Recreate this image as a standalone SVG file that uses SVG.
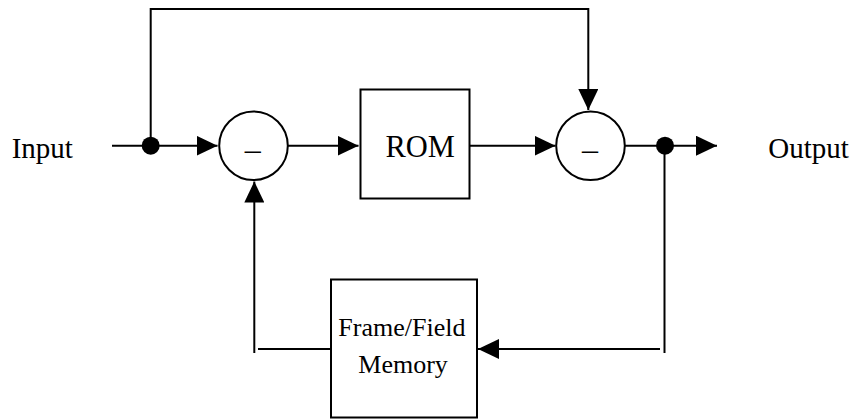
<svg xmlns="http://www.w3.org/2000/svg" width="861" height="419" viewBox="0 0 861 419">
  <defs>
    <marker id="arr" markerUnits="userSpaceOnUse" markerWidth="21" markerHeight="20" viewBox="0 0 21 20" refX="21" refY="10" orient="auto">
      <path d="M0,0 L21,10 L0,20 z" fill="#000"/>
    </marker>
    <style>
      .ln { stroke:#000; stroke-width:2; fill:none; }
      .box { stroke:#000; stroke-width:2; fill:#fff; }
      .dot { fill:#000; }
      .t { font-family:"Liberation Serif","Times New Roman",serif; fill:#000; }
    </style>
  </defs>
  <rect width="861" height="419" fill="#fff"/>

  <g id="connectors">
    <line class="ln" x1="112" y1="145.7" x2="217.5" y2="145.7" marker-end="url(#arr)"/>
    <polyline class="ln" points="150.7,145.7 150.7,9 588.3,9 588.3,110" marker-end="url(#arr)"/>
    <line class="ln" x1="287.7" y1="145.7" x2="358.5" y2="145.7" marker-end="url(#arr)"/>
    <line class="ln" x1="470" y1="145.7" x2="555.5" y2="145.7" marker-end="url(#arr)"/>
    <line class="ln" x1="624.5" y1="145.7" x2="717" y2="145.7" marker-end="url(#arr)"/>
    <line class="ln" x1="664.5" y1="145.7" x2="664.5" y2="353"/>
    <line class="ln" x1="660" y1="349" x2="478" y2="349" marker-end="url(#arr)"/>
    <line class="ln" x1="331" y1="349" x2="258" y2="349"/>
    <line class="ln" x1="254.3" y1="353" x2="254.3" y2="181.5" marker-end="url(#arr)"/>
    <circle class="dot" cx="150.7" cy="145.7" r="9"/>
    <circle class="dot" cx="665" cy="145.7" r="9"/>
  </g>

  <g id="input">
    <text class="t" x="11.7" y="158.3" font-size="29">Input</text>
  </g>
  <g id="output">
    <text class="t" x="768.3" y="158.3" font-size="29">Output</text>
  </g>

  <g id="sub1">
    <circle class="box" cx="253.5" cy="145.8" r="34.3"/>
    <text class="t" x="252.7" y="160" font-size="32" text-anchor="middle">–</text>
  </g>

  <g id="rom">
    <rect class="box" x="360.5" y="89.5" width="109" height="109"/>
    <text class="t" x="385.5" y="157.3" font-size="30.5">ROM</text>
  </g>

  <g id="sub2">
    <circle class="box" cx="590.5" cy="145.8" r="34.3"/>
    <text class="t" x="590" y="160" font-size="32" text-anchor="middle">–</text>
  </g>

  <g id="memory">
    <rect class="box" x="331" y="279.5" width="146" height="138"/>
    <text class="t" x="338.3" y="335.7" font-size="26">Frame/Field</text>
    <text class="t" x="358.3" y="372.7" font-size="26">Memory</text>
  </g>
</svg>
